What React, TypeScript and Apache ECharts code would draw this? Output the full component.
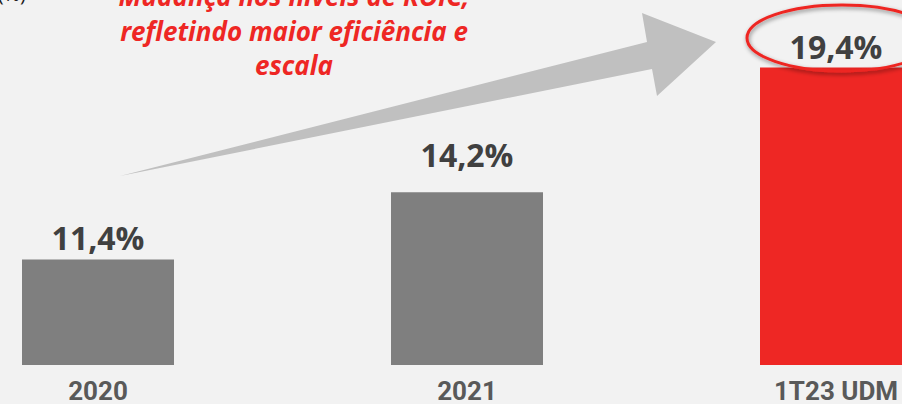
import React, { useEffect, useRef } from "react";
import * as echarts from "echarts";

const categories = ["2020", "2021", "1T23 UDM"];
const roicValues = [11.4, 14.2, 19.4];
const valueLabels = ["11,4%", "14,2%", "19,4%"];
const barColors = ["#7f7f7f", "#7f7f7f", "#ee2724"];
const titleLines = [
  "Mudança nos níveis de ROIC,",
  "refletindo maior eficiência e",
  "escala",
];
const unitText = "(%)";

export default function App() {
  const ref = useRef<HTMLDivElement>(null);

  useEffect(() => {
    document.body.style.margin = "0";
    if (!ref.current) return;
    const chart = echarts.init(ref.current, undefined, { renderer: "svg" });
    const labelDistances = [6, 22, 5];

    const option: any = {
      animation: false,
      backgroundColor: "#f2f2f2",
      grid: {
        left: -86.5,
        right: -118.5,
        top: 53,
        bottom: 39,
        containLabel: false,
        outerBoundsMode: "none",
      },
      xAxis: {
        type: "category",
        data: categories,
        boundaryGap: true,
        axisLine: { show: false },
        axisTick: { show: false },
        axisLabel: {
          color: "#595959",
          fontFamily: "Roboto, sans-serif",
          fontWeight: "bold",
          fontSize: 26,
          lineHeight: 20,
          margin: 15.5,
          interval: 0,
        },
      },
      yAxis: {
        type: "value",
        min: 7,
        max: 20,
        show: false,
        splitLine: { show: false },
      },
      series: [
        {
          type: "bar",
          barWidth: 152,
          clip: true,
          data: roicValues.map((v, i) => ({
            value: v,
            itemStyle: { color: barColors[i] },
            label: {
              show: true,
              position: "top",
              distance: labelDistances[i],
              formatter: valueLabels[i],
              color: "#404040",
              fontFamily: "'Open Sans', sans-serif",
              fontWeight: "bold",
              fontSize: 32,
              lineHeight: 32,
            },
          })),
        },
      ],
      graphic: [
        {
          type: "polygon",
          z: 1,
          shape: {
            points: [
              [120, 176],
              [647, 42],
              [642, 13],
              [716, 42],
              [657, 96],
              [652, 69],
            ],
          },
          style: { fill: "#c0c0c0" },
        },
        {
          type: "text",
          z: 5,
          x: 294,
          y: 30.5,
          style: {
            text: titleLines.join("\n"),
            align: "center",
            verticalAlign: "middle",
            fill: "#ee2724",
            font: "italic bold 26px 'Open Sans', sans-serif",
            lineHeight: 34.5,
          },
        },
        {
          type: "text",
          z: 5,
          x: 26,
          y: 3,
          style: {
            text: unitText,
            align: "right",
            verticalAlign: "bottom",
            fill: "#1a1a1a",
            font: "20px 'Open Sans', sans-serif",
          },
        },
        {
          type: "ellipse",
          z: 10,
          shape: { cx: 842, cy: 38, rx: 95, ry: 33 },
          style: {
            fill: "none",
            stroke: "#ee2724",
            lineWidth: 3,
            shadowBlur: 4,
            shadowColor: "rgba(0,0,0,0.45)",
            shadowOffsetX: 1,
            shadowOffsetY: 2,
          },
        },
      ],
    };
    chart.setOption(option);
    return () => chart.dispose();
  }, []);

  return <div ref={ref} style={{ width: 902, height: 404 }} />;
}
